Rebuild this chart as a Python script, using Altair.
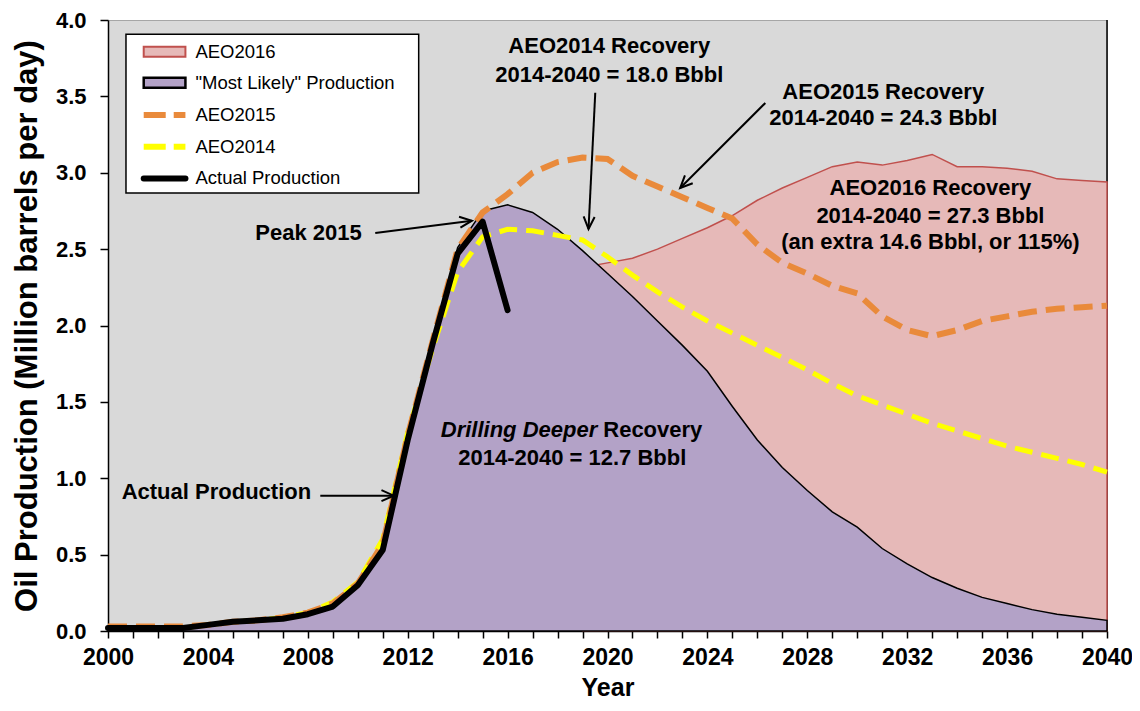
import math
import altair as alt
import pandas as pd

# ---------------- data ----------------
years = list(range(2000, 2041))
actual_years = list(range(2000, 2017))
actual = [0.02, 0.02, 0.02, 0.02, 0.04, 0.06, 0.07, 0.08, 0.11, 0.16, 0.30, 0.53,
          1.25, 1.88, 2.47, 2.68, 2.10]
likely = [0.02, 0.02, 0.02, 0.02, 0.04, 0.06, 0.07, 0.08, 0.11, 0.16, 0.30, 0.53,
          1.25, 1.88, 2.51, 2.75, 2.79, 2.74, 2.63, 2.49, 2.34, 2.19, 2.03, 1.87,
          1.70, 1.47, 1.25, 1.07, 0.92, 0.78, 0.68, 0.54, 0.44, 0.35, 0.28, 0.22,
          0.18, 0.14, 0.11, 0.09, 0.07]
aeo2016_years = list(range(2019, 2041))
aeo2016 = [2.38, 2.41, 2.44, 2.50, 2.57, 2.64, 2.72, 2.82, 2.90, 2.97, 3.04, 3.07,
           3.05, 3.08, 3.12, 3.04, 3.04, 3.03, 3.01, 2.96, 2.95, 2.94]
aeo2015 = [0.03, 0.03, 0.03, 0.03, 0.04, 0.06, 0.07, 0.09, 0.12, 0.18, 0.31, 0.57,
           1.28, 1.90, 2.50, 2.74, 2.86, 3.00, 3.07, 3.10, 3.09, 2.98, 2.91, 2.84,
           2.77, 2.70, 2.53, 2.41, 2.34, 2.26, 2.21, 2.06, 1.97, 1.93, 1.97, 2.03,
           2.06, 2.09, 2.11, 2.12, 2.13]
aeo2014 = [0.02, 0.02, 0.02, 0.02, 0.04, 0.06, 0.07, 0.09, 0.12, 0.19, 0.32, 0.60,
           1.30, 1.85, 2.35, 2.58, 2.63, 2.62, 2.59, 2.56, 2.45, 2.33, 2.22, 2.12,
           2.03, 1.95, 1.87, 1.79, 1.71, 1.62, 1.54, 1.48, 1.42, 1.36, 1.31, 1.26,
           1.21, 1.17, 1.13, 1.09, 1.04]

legend_labels = ["AEO2016", '"Most Likely" Production', "AEO2015", "AEO2014",
                 "Actual Production"]

# annotation texts (bold), in data units
note_text = ["AEO2014 Recovery", "2014-2040 = 18.0 Bbbl",
             "AEO2015 Recovery", "2014-2040 = 24.3 Bbbl",
             "AEO2016 Recovery", "2014-2040 = 27.3 Bbbl",
             "(an extra 14.6 Bbbl, or 115%)",
             "2014-2040 = 12.7 Bbbl", "Peak 2015", "Actual Production"]
note_x = [2020.07, 2020.07, 2031.04, 2031.04, 2032.93, 2032.93, 2032.93,
          2018.59, 2008.03, 2004.34]
note_y = [3.830, 3.640, 3.528, 3.358, 2.900, 2.717, 2.547, 1.133, 2.606, 0.910]

# arrows (start -> tip), data units
arrow_x1 = [2010.70, 2008.50, 2019.51, 2026.32]
arrow_y1 = [2.606, 0.886, 3.524, 3.457]
arrow_x2 = [2014.57, 2011.44, 2019.24, 2022.91]
arrow_y2 = [2.686, 0.886, 2.632, 2.900]

# ---------------- layout / style ----------------
W, H = 999, 611
X0, X1 = 2000, 2040
Y0, Y1 = 0.0, 4.0
FONT = "Liberation Sans"
BG = "#D9D9D9"
PINK, RED = "#E6B9B8", "#C0504D"
PURPLE = "#B3A2C7"
ORANGE = "#E98A3B"
YELLOW = "#FFFF00"

xscale = alt.Scale(domain=[X0, X1], nice=False, zero=False)
yscale = alt.Scale(domain=[Y0, Y1], nice=False, zero=True)
xaxis = alt.Axis(values=years,
                 labelExpr="datum.value % 4 == 0 ? format(datum.value, 'd') : ''",
                 labelOverlap=False, labelFlush=False, tickSize=7, tickWidth=1.5,
                 domainWidth=1.5, labelFontSize=23, labelFontWeight="bold",
                 labelPadding=8, titleFontSize=25, titleFontWeight="bold",
                 titlePadding=6, grid=False)
yaxis = alt.Axis(values=[i * 0.5 for i in range(9)], format=".1f",
                 labelOverlap=False, labelFlush=False, tickSize=8, tickWidth=1.5,
                 domainWidth=1.5, labelFontSize=22, labelFontWeight="bold",
                 labelPadding=14, titleFontSize=31, titleFontWeight="bold",
                 titlePadding=12, grid=False)
XT = "Year"
YT = "Oil Production (Million barrels per day)"


def X(f):
    return alt.X(f"{f}:Q", scale=xscale, axis=xaxis, title=XT)


def Y(f):
    return alt.Y(f"{f}:Q", scale=yscale, axis=yaxis, title=YT)


df_likely = pd.DataFrame({"x": years, "y": likely})
df_16 = pd.DataFrame({"x": aeo2016_years, "y": aeo2016})
df_15 = pd.DataFrame({"x": years, "y": aeo2015})
df_14 = pd.DataFrame({"x": years, "y": aeo2014})
df_act = pd.DataFrame({"x": actual_years, "y": actual})

right_edge = alt.Chart(pd.DataFrame({"x": [X1], "y": [Y0], "y2": [Y1]})).mark_rule(
    color="black", strokeWidth=1.5).encode(x=X("x"), y=Y("y"), y2=alt.Y2("y2"))

pink = alt.Chart(df_16).mark_area(fill=PINK, stroke=RED, strokeWidth=1.5,
                                  fillOpacity=1).encode(x=X("x"), y=Y("y"))
purple = alt.Chart(df_likely).mark_area(fill=PURPLE, stroke="black", strokeWidth=1.5,
                                        fillOpacity=1).encode(x=X("x"), y=Y("y"))
l14 = alt.Chart(df_14).mark_line(color=YELLOW, strokeWidth=5, strokeDash=[18, 9]).encode(
    x=X("x"), y=Y("y"))
l15 = alt.Chart(df_15).mark_line(color=ORANGE, strokeWidth=6, strokeDash=[19, 9]).encode(
    x=X("x"), y=Y("y"))
lact = alt.Chart(df_act).mark_line(color="black", strokeWidth=6, strokeCap="round",
                                   strokeJoin="round").encode(x=X("x"), y=Y("y"))

# ---------------- legend (drawn inside the plot, data units) ----------------
px_x = (X1 - X0) / W   # years per pixel
px_y = (Y1 - Y0) / H   # value per pixel
leg_x0, leg_x1, leg_y0, leg_y1 = 2000.72, 2012.44, 2.868, 3.906
leg_rows = [3.792, 3.589, 3.378, 3.170, 2.963]
sym_x0, sym_x1, txt_x = 2001.43, 2003.10, 2003.50
half = 5 * px_y

box = alt.Chart(pd.DataFrame({"x": [leg_x0], "x2": [leg_x1], "y": [leg_y0], "y2": [leg_y1]})).mark_rect(
    fill="white", stroke="black", strokeWidth=1.5).encode(
    x=X("x"), x2=alt.X2("x2"), y=Y("y"), y2=alt.Y2("y2"))
sym16 = alt.Chart(pd.DataFrame({"x": [sym_x0], "x2": [sym_x1], "y": [leg_rows[0] - half],
                                "y2": [leg_rows[0] + half]})).mark_rect(
    fill=PINK, stroke=RED, strokeWidth=2).encode(
    x=X("x"), x2=alt.X2("x2"), y=Y("y"), y2=alt.Y2("y2"))
symml = alt.Chart(pd.DataFrame({"x": [sym_x0], "x2": [sym_x1], "y": [leg_rows[1] - half],
                                "y2": [leg_rows[1] + half]})).mark_rect(
    fill=PURPLE, stroke="black", strokeWidth=2.5).encode(
    x=X("x"), x2=alt.X2("x2"), y=Y("y"), y2=alt.Y2("y2"))


def leg_line(row, color, width, dash=None, cap="butt"):
    d = pd.DataFrame({"x": [sym_x0, sym_x1], "y": [leg_rows[row]] * 2})
    kw = dict(color=color, strokeWidth=width, strokeCap=cap)
    if dash:
        kw["strokeDash"] = dash
    return alt.Chart(d).mark_line(**kw).encode(x=X("x"), y=Y("y"))


sym15 = leg_line(2, ORANGE, 6, [22, 8])
sym14 = leg_line(3, YELLOW, 6, [22, 8])
symact = leg_line(4, "black", 6, None, "round")
leg_text = alt.Chart(pd.DataFrame({"x": [txt_x] * 5, "y": leg_rows, "t": legend_labels})).mark_text(
    font=FONT, fontSize=18.5, align="left", baseline="middle", color="black").encode(
    x=X("x"), y=Y("y"), text="t:N")

# ---------------- arrows ----------------
df_arrow = pd.DataFrame({"x": arrow_x1, "y": arrow_y1, "x2": arrow_x2, "y2": arrow_y2})
df_arrow["ang"] = [
    math.degrees(math.atan2(-(b2 - b1) / px_y, (a2 - a1) / px_x)) % 360
    for a1, b1, a2, b2 in zip(arrow_x1, arrow_y1, arrow_x2, arrow_y2)
]
arrows = alt.Chart(df_arrow).mark_rule(color="black", strokeWidth=2).encode(
    x=X("x"), y=Y("y"), x2=alt.X2("x2"), y2=alt.Y2("y2"))
heads = alt.Chart(df_arrow).mark_point(
    shape="M-2,-0.9L0,0L-2,0.9", size=150, filled=False, stroke="black",
    strokeWidth=2, opacity=1).encode(
    x=X("x2"), y=Y("y2"), angle=alt.Angle("ang:Q", scale=None))

# ---------------- annotation texts ----------------
notes = alt.Chart(pd.DataFrame({"x": note_x, "y": note_y, "t": note_text})).mark_text(
    font=FONT, fontSize=22, fontWeight="bold", align="center", baseline="middle",
    color="black").encode(x=X("x"), y=Y("y"), text="t:N")
dd_split_x, dd_y = 2019.59, 1.316
dd_it = alt.Chart(pd.DataFrame({"x": [dd_split_x], "y": [dd_y], "t": ["Drilling Deeper"]})).mark_text(
    font=FONT, fontSize=22, fontWeight="bold", fontStyle="italic", align="right",
    baseline="middle", color="black").encode(x=X("x"), y=Y("y"), text="t:N")
dd_rec = alt.Chart(pd.DataFrame({"x": [dd_split_x], "y": [dd_y], "t": ["Recovery"]})).mark_text(
    font=FONT, fontSize=22, fontWeight="bold", align="left", dx=6,
    baseline="middle", color="black").encode(x=X("x"), y=Y("y"), text="t:N")

chart = alt.layer(
    right_edge, pink, purple, l14, l15, lact,
    box, sym16, symml, sym15, sym14, symact, leg_text,
    arrows, heads, notes, dd_it, dd_rec,
).properties(
    width=W, height=H,
    autosize=alt.AutoSizeParams(type="none"),
    padding={"left": 100, "top": 12, "right": 25, "bottom": 71},
).configure_view(
    fill=BG, stroke="#A6A6A6", strokeWidth=1,
).configure_axis(
    domainColor="black", tickColor="black", labelColor="black", titleColor="black",
    labelFont=FONT, titleFont=FONT,
)

chart.save("out.html", embed_options={"renderer": "svg", "actions": False})
